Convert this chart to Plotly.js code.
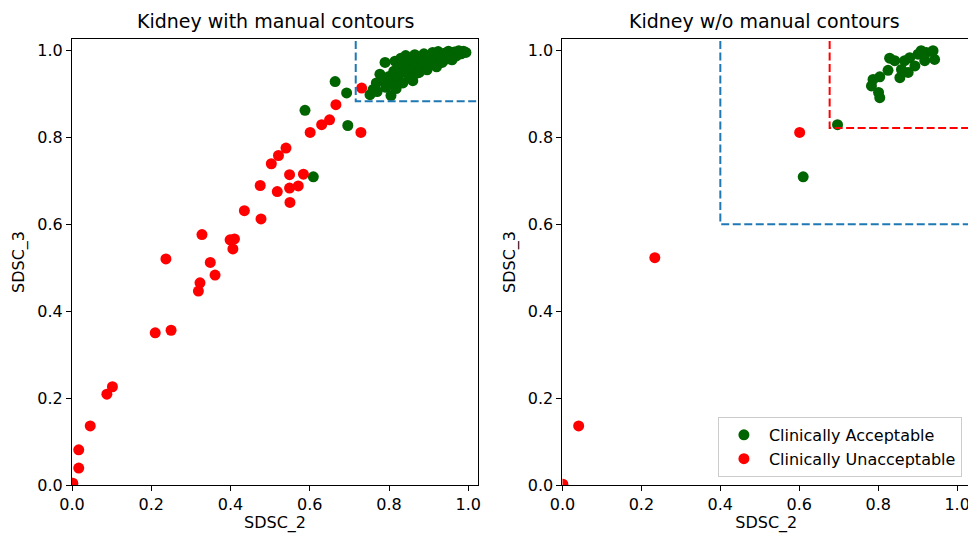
<!DOCTYPE html>
<html><head><meta charset="utf-8">
<script src="https://cdn.plot.ly/plotly-3.0.1.min.js"></script>
<style>html,body{margin:0;padding:0;overflow:hidden;background:#fff}</style>
</head><body><div id="chart" style="width:970px;height:533px"></div>
<script>
// ---- Data ----
const titles = ['Kidney with manual contours', 'Kidney w/o manual contours'];
const xLabel = 'SDSC_2';
const yLabel = 'SDSC_3';
const legendNames = ['Clinically Acceptable', 'Clinically Unacceptable'];
const tickVals = [0, 0.2, 0.4, 0.6, 0.8, 1.0];
const tickText = ['0.0', '0.2', '0.4', '0.6', '0.8', '1.0'];

// Left panel: with manual contours
const leftAccX = [0.588,0.664,0.693,0.696,0.609,
  0.752,0.760,0.768,0.777,0.785,0.790,0.792,0.800,0.805,0.808,0.812,0.815,0.818,0.822,0.826,0.830,
  0.835,0.838,0.842,0.846,0.850,0.855,0.860,0.865,0.868,0.872,0.878,0.882,0.888,0.892,0.896,0.900,
  0.905,0.910,0.915,0.920,0.924,0.928,0.934,0.940,0.945,0.950,0.955,0.959,0.965,0.970,0.976,0.982,
  0.988,0.994,0.876,0.815,0.770,0.860];
const leftAccY = [0.862,0.928,0.902,0.827,0.709,
  0.898,0.910,0.925,0.945,0.932,0.972,0.915,0.940,0.896,0.925,0.952,0.975,0.912,0.938,0.962,0.982,
  0.925,0.950,0.988,0.968,0.940,0.978,0.955,0.990,0.970,0.948,0.982,0.962,0.992,0.975,0.955,0.985,
  0.968,0.995,0.978,0.962,0.997,0.985,0.972,0.993,0.980,0.998,0.988,0.978,0.996,0.987,0.999,0.992,
  0.998,0.995,0.949,0.916,0.905,0.930];
const leftUnaccX = [0.731,0.666,0.650,0.630,0.601,0.729,0.540,0.521,0.503,0.549,0.584,0.475,0.571,
  0.549,0.518,0.550,0.435,0.477,0.328,0.399,0.410,0.406,0.237,0.349,0.361,0.323,0.319,0.210,0.250,
  0.102,0.088,0.046,0.017,0.017,0.002];
const leftUnaccY = [0.913,0.875,0.840,0.829,0.811,0.811,0.775,0.758,0.739,0.714,0.715,0.689,0.688,
  0.683,0.675,0.650,0.631,0.612,0.576,0.564,0.566,0.543,0.520,0.512,0.483,0.465,0.446,0.350,0.356,
  0.226,0.209,0.136,0.081,0.039,0.004];
const leftThreshX = 0.716, leftThreshY = 0.883;

// Right panel: without manual contours
const rightAccX = [0.610,0.697,0.804,0.801,0.783,0.787,0.804,0.825,0.829,0.855,0.859,0.867,0.880,
  0.876,0.893,0.901,0.918,0.922,0.939,0.943,0.909,0.842];
const rightAccY = [0.709,0.829,0.891,0.903,0.918,0.933,0.939,0.954,0.982,0.937,0.956,0.976,0.983,
  0.949,0.964,0.991,0.976,0.995,0.999,0.979,0.999,0.976];
const rightUnaccX = [0.001,0.041,0.234,0.601];
const rightUnaccY = [0.002,0.136,0.523,0.811];
const rightThreshBlueX = 0.40, rightThreshBlueY = 0.60;
const rightThreshRedX = 0.677, rightThreshRedY = 0.821;

// ---- Style ----
const GREEN = '#006400', RED = '#ff0000', BLUE = '#1f77b4';
const FONT = 'DejaVu Sans, sans-serif';
const FAR = 2; // beyond the axis range, clipped by the plot area

function markers(x, y, color, name, xa, ya, show) {
  return {type:'scatter', mode:'markers', x:x, y:y, xaxis:xa, yaxis:ya, name:name,
    showlegend:show, marker:{color:color, size:11, line:{width:0}}, hoverinfo:'x+y'};
}
function box(tx, ty, color, xa, ya) {
  return {type:'scatter', mode:'lines', x:[tx, tx, FAR], y:[FAR, ty, ty], xaxis:xa, yaxis:ya,
    showlegend:false, hoverinfo:'skip', line:{color:color, width:2, dash:'8px,3.5px'}};
}

const traces = [
  markers(leftAccX, leftAccY, GREEN, legendNames[0], 'x', 'y', false),
  markers(leftUnaccX, leftUnaccY, RED, legendNames[1], 'x', 'y', false),
  box(leftThreshX, leftThreshY, BLUE, 'x', 'y'),
  markers(rightAccX, rightAccY, GREEN, legendNames[0], 'x2', 'y2', true),
  markers(rightUnaccX, rightUnaccY, RED, legendNames[1], 'x2', 'y2', true),
  box(rightThreshBlueX, rightThreshBlueY, BLUE, 'x2', 'y2'),
  box(rightThreshRedX, rightThreshRedY, RED, 'x2', 'y2')
];

const axisCommon = {showgrid:false, zeroline:false, showline:true, linecolor:'#000', linewidth:1,
  mirror:true, ticks:'outside', ticklen:5, tickwidth:1, tickcolor:'#000',
  tickfont:{family:FONT, size:16, color:'#000'}, automargin:false,
  tickmode:'array', tickvals:tickVals, ticktext:tickText};

function xa(domain, range) {
  return Object.assign({}, axisCommon, {domain:domain, range:range,
    title:{text:xLabel, font:{family:FONT, size:16, color:'#000'}, standoff:7}});
}
function ya(domain, range, anchor) {
  return Object.assign({}, axisCommon, {domain:domain, range:range, anchor:anchor,
    title:{text:yLabel, font:{family:FONT, size:16, color:'#000'}, standoff:8}});
}

const layout = {
  width:970, height:533,
  margin:{l:72, r:0, t:39, b:48},
  paper_bgcolor:'#fff', plot_bgcolor:'#fff',
  font:{family:FONT, color:'#000'},
  showlegend:true,
  xaxis: Object.assign(xa([0, 0.4521], [0, 1.0245]), {anchor:'y'}),
  yaxis: ya([0, 1], [0, 1.026], 'x'),
  xaxis2: Object.assign(xa([0.5462, 1], [0, 1.0327]), {anchor:'y2'}),
  yaxis2: ya([0, 1], [0, 1.026], 'x2'),
  legend:{x:0.991, xanchor:'right', y:0.018, yanchor:'bottom', bgcolor:'rgba(255,255,255,0.8)',
    bordercolor:'#cccccc', borderwidth:1, itemwidth:40, font:{family:FONT, size:16, color:'#000'}},
  annotations:[
    {text:titles[0], xref:'paper', yref:'paper', x:0.2261, y:1.041, xanchor:'center', yanchor:'middle',
     showarrow:false, font:{family:FONT, size:19, color:'#000'}},
    {text:titles[1], xref:'paper', yref:'paper', x:0.7717, y:1.041, xanchor:'center', yanchor:'middle',
     showarrow:false, font:{family:FONT, size:19, color:'#000'}}
  ]
};

Plotly.newPlot('chart', traces, layout, {displayModeBar:false, staticPlot:true});
</script></body></html>
